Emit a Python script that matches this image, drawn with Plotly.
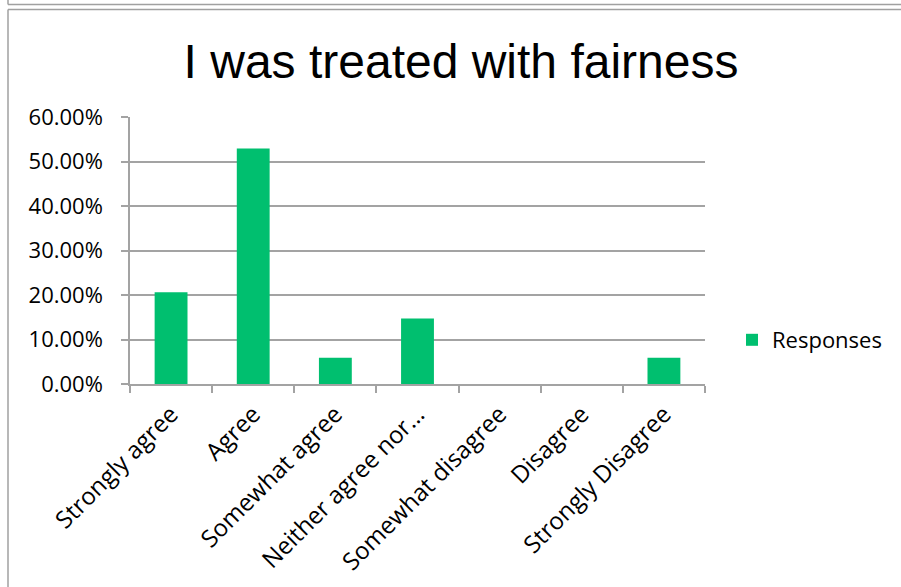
import plotly.graph_objects as go

# Survey answers and share of responses for each
categories = [
    "Strongly agree",
    "Agree",
    "Somewhat agree",
    "Neither agree nor\u2026",
    "Somewhat disagree",
    "Disagree",
    "Strongly Disagree",
]
responses = [0.2059, 0.5294, 0.0588, 0.1471, 0.0, 0.0, 0.0588]
y_ticks = [0.0, 0.1, 0.2, 0.3, 0.4, 0.5, 0.6]

W, H = 901, 587
L, R, T, B = 130, 196, 117, 203
PW, PH = W - L - R, H - T - B


def px(x):
    return (x - L) / PW


def py(y):
    return (H - B - y) / PH


GREEN = "#00BF6F"
GRID = "#A3A3A3"
LABEL_FONT = dict(family="Open Sans, Noto Sans, sans-serif", size=22, color="#000000")
XLABEL_FONT = dict(family="Open Sans, Noto Sans, sans-serif", size=24, color="#000000")

fig = go.Figure(
    go.Bar(
        x=categories,
        y=responses,
        name="Responses",
        marker=dict(color=GREEN, line=dict(width=0)),
    )
)

# Frame lines around the chart area
frame = dict(type="line", xref="paper", yref="paper", line=dict(color="#A0A0A0", width=1.5))
shapes = [
    dict(frame, x0=px(8), x1=px(8), y0=py(-2), y1=py(4.5)),
    dict(frame, x0=px(8), x1=px(905), y0=py(4.5), y1=py(4.5)),
    dict(frame, x0=px(8), x1=px(905), y0=py(9.5), y1=py(9.5)),
    dict(frame, x0=px(8), x1=px(8), y0=py(9.5), y1=py(590)),
]

fig.update_layout(
    width=W,
    height=H,
    margin=dict(l=L, r=R, t=T, b=B, autoexpand=False),
    paper_bgcolor="white",
    plot_bgcolor="white",
    bargap=0.6,
    shapes=shapes,
    title=dict(
        text="I was treated with fairness",
        font=dict(family="Liberation Sans, Arial, sans-serif", size=48, color="#000000"),
        x=461 / W,
        xanchor="center",
        xref="container",
        y=1 - 61 / H,
        yanchor="middle",
        yref="container",
    ),
    showlegend=True,
    legend=dict(
        x=px(732),
        y=py(340),
        xanchor="left",
        yanchor="middle",
        font=LABEL_FONT,
        bgcolor="rgba(0,0,0,0)",
        itemwidth=30,
    ),
    xaxis=dict(
        type="category",
        tickangle=-45,
        tickfont=XLABEL_FONT,
        showgrid=False,
        showline=True,
        linecolor=GRID,
        linewidth=1.5,
        ticks="outside",
        tickson="boundaries",
        ticklen=7,
        tickcolor=GRID,
        tickwidth=1.5,
        ticklabelstandoff=5,
    ),
    yaxis=dict(
        range=[0, 0.6],
        tickvals=y_ticks,
        tickformat=".2%",
        tickfont=LABEL_FONT,
        showgrid=True,
        gridcolor=GRID,
        gridwidth=1.5,
        showline=True,
        linecolor=GRID,
        linewidth=1.5,
        ticks="outside",
        ticklen=7,
        tickcolor=GRID,
        tickwidth=1.5,
        ticklabelstandoff=14,
        zeroline=False,
    ),
)

fig.write_html("out.html")
